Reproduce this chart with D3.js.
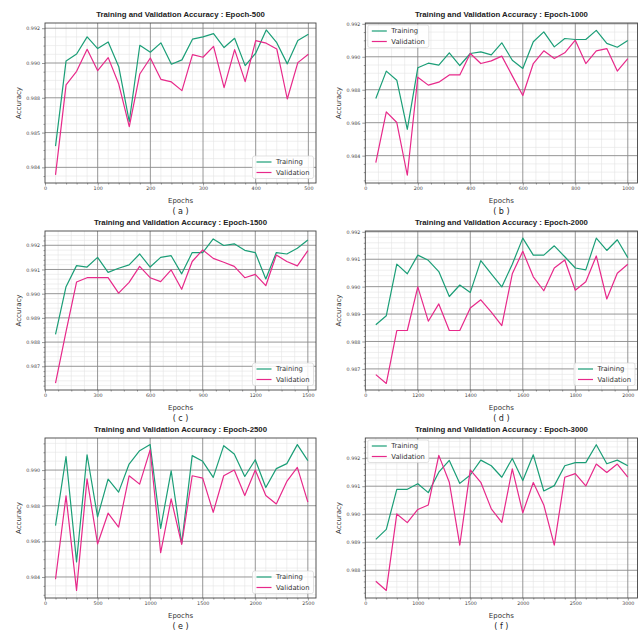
<!DOCTYPE html>
<html>
<head>
<meta charset="utf-8">
<script src="https://cdn.jsdelivr.net/npm/d3@7"></script>
<style>
body { margin: 0; background: #fff; }
svg { display: block; }
</style>
</head>
<body>
<svg id="chart" width="642" height="630"></svg>
<script>
"use strict"

// ---- values ----

// (a) Epoch-500
const epochsA = [20,40,60,80,100,120,140,160,180,200,220,240,260,280,300,320,340,360,380,400,420,440,460,480,500]
const trainA = [0.98522,0.99012,0.99052,0.99150,0.99083,0.99121,0.98979,0.98663,0.99102,0.99062,0.99116,0.98993,0.99018,0.99137,0.99150,0.99169,0.99089,0.99142,0.98985,0.99056,0.99190,0.99117,0.98995,0.99129,0.99165]
const valA = [0.98357,0.98874,0.98952,0.99079,0.98956,0.99031,0.98879,0.98634,0.98937,0.99029,0.98906,0.98891,0.98841,0.99048,0.99033,0.99096,0.98858,0.99077,0.98893,0.99129,0.99114,0.99081,0.98793,0.99002,0.99050]

// (b) Epoch-1000
const epochsB = [40,80,120,160,200,240,280,320,360,400,440,480,520,560,600,640,680,720,760,800,840,880,920,960,1000]
const trainB = [0.98747,0.98913,0.98858,0.98560,0.98933,0.98961,0.98949,0.99024,0.98947,0.99020,0.99030,0.99012,0.99085,0.98979,0.98929,0.99091,0.99151,0.99060,0.99111,0.99105,0.99105,0.99160,0.99081,0.99058,0.99099]
const valB = [0.98358,0.98666,0.98601,0.98281,0.98876,0.98828,0.98846,0.98890,0.98890,0.99020,0.98959,0.98975,0.99004,0.98884,0.98765,0.98959,0.99036,0.98989,0.99024,0.99101,0.98959,0.99036,0.99050,0.98913,0.98989]

// (c) Epoch-1500
const epochsC = [60,120,180,240,300,360,420,480,540,600,660,720,780,840,900,960,1020,1080,1140,1200,1260,1320,1380,1440,1500]
const trainC = [0.98832,0.99029,0.99116,0.99110,0.99150,0.99088,0.99105,0.99119,0.99164,0.99110,0.99150,0.99157,0.99082,0.99170,0.99170,0.99226,0.99199,0.99206,0.99179,0.99170,0.99061,0.99170,0.99164,0.99188,0.99222]
const valC = [0.98630,0.98843,0.99048,0.99066,0.99066,0.99066,0.99002,0.99047,0.99113,0.99066,0.99050,0.99098,0.99018,0.99133,0.99181,0.99146,0.99130,0.99113,0.99066,0.99080,0.99033,0.99160,0.99133,0.99115,0.99178]

// (d) Epoch-2000
const epochsD = [80,160,240,320,400,480,560,640,720,800,880,960,1040,1120,1200,1280,1360,1440,1520,1600,1680,1760,1840,1920,2000]
const trainD = [0.98861,0.98894,0.99082,0.99047,0.99115,0.99096,0.99055,0.98964,0.99006,0.98979,0.99095,0.99047,0.98999,0.99082,0.99177,0.99115,0.99115,0.99149,0.99109,0.99068,0.99061,0.99177,0.99132,0.99171,0.99106]
const valD = [0.98679,0.98647,0.98840,0.98840,0.98999,0.98874,0.98937,0.98840,0.98840,0.98922,0.98952,0.98907,0.98858,0.99047,0.99129,0.99036,0.98985,0.99068,0.99097,0.98987,0.99018,0.99112,0.98955,0.99049,0.99082]

// (e) Epoch-2500
const epochsE = [100,200,300,400,500,600,700,800,900,1000,1100,1200,1300,1400,1500,1600,1700,1800,1900,2000,2100,2200,2300,2400,2500]
const trainE = [0.98688,0.99075,0.98485,0.99086,0.98737,0.98949,0.98876,0.99034,0.99109,0.99143,0.98673,0.98996,0.98588,0.99081,0.99049,0.98959,0.99137,0.99090,0.98964,0.99058,0.98902,0.99008,0.99036,0.99143,0.99053]
const valE = [0.98387,0.98855,0.98325,0.98951,0.98585,0.98758,0.98680,0.98968,0.98921,0.99113,0.98536,0.98838,0.98583,0.98968,0.98955,0.98763,0.98968,0.99000,0.98857,0.99000,0.98857,0.98810,0.98936,0.99015,0.98820]

// (f) Epoch-3000
const epochsF = [100,200,300,400,500,600,700,800,900,1000,1100,1200,1300,1400,1500,1600,1700,1800,1900,2000,2100,2200,2300,2400,2500]
const trainF = [0.98910,0.98946,0.99089,0.99089,0.99109,0.99077,0.99150,0.99192,0.99110,0.99140,0.99193,0.99173,0.99132,0.99199,0.99120,0.99212,0.99083,0.99102,0.99173,0.99184,0.99184,0.99248,0.99180,0.99193,0.99173]
const valF = [0.98761,0.98728,0.99001,0.98970,0.99017,0.99033,0.99210,0.99114,0.98890,0.99158,0.99114,0.99019,0.98971,0.99162,0.99005,0.99113,0.99033,0.98890,0.99132,0.99145,0.99101,0.99179,0.99149,0.99179,0.99132]

// tick positions and the labels printed at them
const xTicksA = [0,100,200,300,400,500]
const xLabelsA = ["0","100","200","300","400","500"]
const xTicksB = [0,200,400,600,800,1000]
const xLabelsB = ["0","200","400","600","800","1000"]
const xTicksC = [0,300,600,900,1200,1500]
const xLabelsC = ["0","300","600","900","1200","1500"]
const xTicksD = [0,400,800,1200,1600,2000]
const xLabelsD = ["0","1200","1400","1600","1800","2000"]
const xTicksE = [0,500,1000,1500,2000,2500]
const xLabelsE = ["0","500","1000","1500","2000","2500"]
const xTicksF = [0,500,1000,1500,2000,2500]
const xLabelsF = ["0","1000","1500","2000","2500","3000"]

const yTicksAB = [0.984,0.986,0.988,0.990,0.992]
const yLabelsA = ["0.984","0.985","0.988","0.990","0.992"]
const yLabelsB = ["0.984","0.986","0.988","0.990","0.992"]
const yTicksCD = [0.987,0.988,0.989,0.990,0.991,0.992]
const yLabelsCD = ["0.987","0.988","0.989","0.990","0.991","0.992"]
const yTicksE = [0.984,0.986,0.988,0.990]
const yLabelsE = ["0.984","0.986","0.988","0.990"]
const yTicksF = [0.988,0.989,0.990,0.991,0.992]
const yLabelsF = ["0.988","0.989","0.990","0.991","0.992"]

const seriesNames = ["Training", "Validation"]
const colors = ["#1b9e77", "#e7298a"]

// ---- layout ----
const svg = d3.select("#chart")
const colL = {left: 45, right: 316}
const colR = {left: 365.3, right: 637.5}
const rows = [{top: 23, bottom: 183}, {top: 231, bottom: 390}, {top: 438, bottom: 598}]

const panels = [
	{tag: "( a )", epochs: epochsA, train: trainA, val: valA, title: "Epoch-500", col: colL, row: rows[0],
	 xTicks: xTicksA, xLabels: xLabelsA, xDiv: 5, yTicks: yTicksAB, yLabels: yLabelsA, yDiv: 4,
	 yDomain: [0.9831, 0.9923], xPad: 1.029, legend: "br"},
	{tag: "( b )", epochs: epochsB, train: trainB, val: valB, title: "Epoch-1000", col: colR, row: rows[0],
	 xTicks: xTicksB, xLabels: xLabelsB, xDiv: 4, yTicks: yTicksAB, yLabels: yLabelsB, yDiv: 4,
	 yDomain: [0.98234, 0.99205], xPad: 1.037, legend: "tl"},
	{tag: "( c )", epochs: epochsC, train: trainC, val: valC, title: "Epoch-1500", col: colL, row: rows[1],
	 xTicks: xTicksC, xLabels: xLabelsC, xDiv: 4, yTicks: yTicksCD, yLabels: yLabelsCD, yDiv: 5,
	 yDomain: [0.98602, 0.99259], xPad: 1.031, legend: "br"},
	{tag: "( d )", epochs: epochsD, train: trainD, val: valD, title: "Epoch-2000", col: colR, row: rows[1],
	 xTicks: xTicksD, xLabels: xLabelsD, xDiv: 4, yTicks: yTicksCD, yLabels: yLabelsCD, yDiv: 5,
	 yDomain: [0.98623, 0.99203], xPad: 1.037, legend: "br"},
	{tag: "( e )", epochs: epochsE, train: trainE, val: valE, title: "Epoch-2500", col: colL, row: rows[2],
	 xTicks: xTicksE, xLabels: xLabelsE, xDiv: 5, yTicks: yTicksE, yLabels: yLabelsE, yDiv: 4,
	 yDomain: [0.98282, 0.9918], xPad: 1.031, legend: "br"},
	{tag: "( f )", epochs: epochsF, train: trainF, val: valF, title: "Epoch-3000", col: colR, row: rows[2],
	 xTicks: xTicksF, xLabels: xLabelsF, xDiv: 5, yTicks: yTicksF, yLabels: yLabelsF, yDiv: 5,
	 yDomain: [0.98701, 0.99272], xPad: 1.037, legend: "tl"}
]

// minor tick values between (and beyond) the majors
function minorTicks(majors, div, domain) {
	const step = (majors[1] - majors[0]) / div
	const out = []
	const lo = Math.min(domain[0], domain[1]), hi = Math.max(domain[0], domain[1])
	for (let k = -div; k <= (majors.length - 1) * div + div * 2; ++k) {
		if (k % div === 0) continue
		const v = majors[0] + k * step
		if (v > lo + 1e-9 && v < hi - 1e-9) out.push(v)
	}
	return out
}

function drawPanel(p) {
	const left = p.col.left, right = p.col.right, top = p.row.top, bottom = p.row.bottom
	const xMax = p.epochs[p.epochs.length - 1] * p.xPad
	const x = d3.scaleLinear().domain([0, xMax]).range([left, right])
	const y = d3.scaleLinear().domain(p.yDomain).range([bottom, top])
	const g = svg.append("g")

	g.append("rect").attr("x", left).attr("y", top)
		.attr("width", right - left).attr("height", bottom - top).attr("fill", "#fff")

	// minor grid
	const xMinor = minorTicks(p.xTicks, p.xDiv, x.domain())
	const yMinor = minorTicks(p.yTicks, p.yDiv, y.domain())
	g.selectAll(".vminor").data(xMinor).join("line")
		.attr("x1", d => x(d)).attr("x2", d => x(d)).attr("y1", top).attr("y2", bottom)
		.attr("stroke", "#e4e4e4").attr("stroke-width", 0.6)
	g.selectAll(".hminor").data(yMinor).join("line")
		.attr("y1", d => y(d)).attr("y2", d => y(d)).attr("x1", left).attr("x2", right)
		.attr("stroke", "#e4e4e4").attr("stroke-width", 0.6)

	// major grid
	g.selectAll(".vmajor").data(p.xTicks.filter(d => d > 0)).join("line")
		.attr("x1", d => x(d)).attr("x2", d => x(d)).attr("y1", top).attr("y2", bottom)
		.attr("stroke", "#8a8a8a").attr("stroke-width", 0.9)
	g.selectAll(".hmajor").data(p.yTicks).join("line")
		.attr("y1", d => y(d)).attr("y2", d => y(d)).attr("x1", left).attr("x2", right)
		.attr("stroke", "#8a8a8a").attr("stroke-width", 0.9)

	// series
	const line = d3.line().x(d => x(d[0])).y(d => y(d[1]))
	const series = [d3.zip(p.epochs, p.train), d3.zip(p.epochs, p.val)]
	g.selectAll(".series").data(series).join("path")
		.attr("d", line)
		.attr("fill", "none")
		.attr("stroke", (d, i) => colors[i])
		.attr("stroke-width", 1.2)
		.attr("stroke-linejoin", "round")

	// frame
	g.append("rect").attr("x", left).attr("y", top)
		.attr("width", right - left).attr("height", bottom - top)
		.attr("fill", "none").attr("stroke", "#444").attr("stroke-width", 0.9)

	// axes
	const xAxis = d3.axisBottom(x).tickValues(p.xTicks)
		.tickFormat((d, i) => p.xLabels[i]).tickSize(2.5).tickPadding(1.5)
	const gx = g.append("g").attr("transform", "translate(0," + bottom + ")").call(xAxis)
	const yAxis = d3.axisLeft(y).tickValues(p.yTicks)
		.tickFormat((d, i) => p.yLabels[i]).tickSize(3).tickPadding(2)
	const gy = g.append("g").attr("transform", "translate(" + left + ",0)").call(yAxis)

	g.append("g").attr("transform", "translate(0," + bottom + ")")
		.call(d3.axisBottom(x).tickValues(xMinor).tickFormat("").tickSize(1.5))
	g.append("g").attr("transform", "translate(" + left + ",0)")
		.call(d3.axisLeft(y).tickValues(yMinor).tickFormat("").tickSize(1.5))

	g.selectAll(".domain").remove()
	g.selectAll(".tick line").attr("stroke", "#555").attr("stroke-width", 0.6)
	g.selectAll(".tick text")
		.style("font-family", "DejaVu Sans")
		.style("font-size", "4.8px")
		.attr("fill", "#444")

	// titles and labels
	const cx = (left + right) / 2
	g.append("text").attr("x", cx).attr("y", top - 6.3)
		.attr("text-anchor", "middle")
		.style("font-family", "Liberation Sans, Arial, sans-serif")
		.style("font-weight", "bold").style("font-size", "7.8px")
		.attr("fill", "#222")
		.text("Training and Validation Accuracy : " + p.title)

	g.append("text").attr("x", cx).attr("y", bottom + 19.5)
		.attr("text-anchor", "middle")
		.style("font-family", "DejaVu Sans").style("font-size", "7px")
		.attr("fill", "#333").text("Epochs")

	g.append("text")
		.attr("transform", "translate(" + (left - 24.5) + "," + ((top + bottom) / 2) + ") rotate(-90)")
		.attr("text-anchor", "middle")
		.style("font-family", "DejaVu Sans").style("font-size", "7px")
		.attr("fill", "#333").text("Accuracy")

	g.append("text").attr("x", cx).attr("y", bottom + 31)
		.attr("text-anchor", "middle")
		.style("font-family", "DejaVu Sans").style("font-size", "8px")
		.attr("fill", "#222").text(p.tag)

	// legend
	const lw = 61, lh = 22.5
	const lx = p.legend === "br" ? right - 2.5 - lw : left + 2.5
	const ly = p.legend === "br" ? bottom - 4.5 - lh : top + 2
	const leg = g.append("g").attr("transform", "translate(" + lx + "," + ly + ")")
	leg.append("rect").attr("width", lw).attr("height", lh).attr("rx", 2)
		.attr("fill", "#fff").attr("fill-opacity", 0.85)
		.attr("stroke", "#d6d6d6").attr("stroke-width", 0.7)
	const item = leg.selectAll(".item").data(seriesNames).join("g")
		.attr("transform", (d, i) => "translate(0," + (6 + i * 10.5) + ")")
	item.append("line").attr("x1", 4).attr("x2", 19)
		.attr("stroke", (d, i) => colors[i]).attr("stroke-width", 1.2)
	item.append("text").attr("x", 23.5).attr("y", 2.4)
		.style("font-family", "DejaVu Sans").style("font-size", "6.8px")
		.attr("fill", "#333").text(d => d)
}

panels.forEach(drawPanel)
</script>
</body>
</html>
